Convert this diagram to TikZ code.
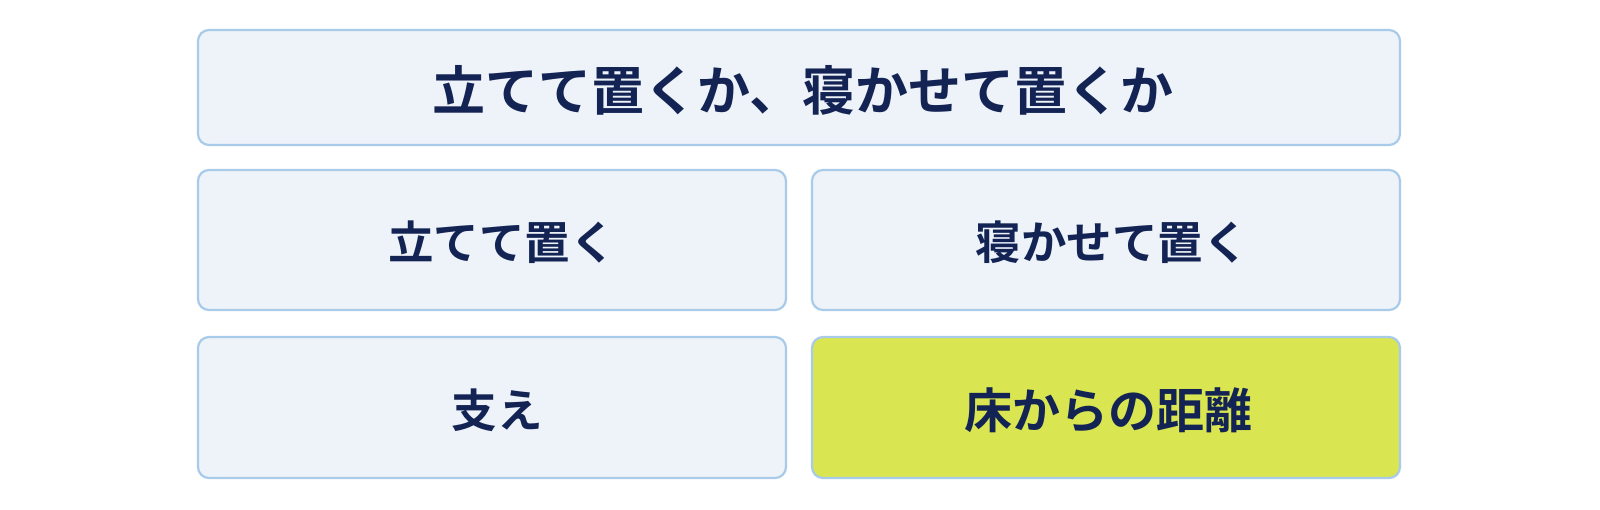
\documentclass[tikz,border=0pt]{standalone}
\usepackage{fontspec}
\newfontfamily\jp{Noto Sans CJK JP Bold}
\definecolor{boxfill}{HTML}{EEF3F9}
\definecolor{boxline}{HTML}{A9CBEA}
\definecolor{ink}{HTML}{132454}
\definecolor{hilite}{HTML}{D9E651}
\begin{document}
\begin{tikzpicture}[x=1pt,y=-1pt,
  card/.style={draw=boxline, line width=2.2pt, fill=boxfill, rounded corners=11pt},
  lbl/.style={text=ink, font=\jp\fontsize{45.5}{52}\selectfont, inner sep=0pt}]
\useasboundingbox (0,0) rectangle (1600,509);
\fill[white] (0,0) rectangle (1600,509);
\draw[card] (198,30) rectangle (1400,145);
\node[lbl, font=\jp\fontsize{53}{60}\selectfont] (title) at (803,90) {立てて置くか、寝かせて置くか};
\draw[card] (198,170) rectangle (786,310);
\node[lbl] (stand) at (502,242) {立てて置く};
\draw[card] (812,170) rectangle (1400,310);
\node[lbl] (lay) at (1112,242) {寝かせて置く};
\draw[card] (198,337) rectangle (786,478);
\node[lbl] (support) at (497,410) {支え};
\draw[card, fill=hilite] (812,337) rectangle (1400,478);
\node[lbl, font=\jp\fontsize{48}{55}\selectfont] (dist) at (1108,410) {床からの距離};
\end{tikzpicture}
\end{document}
